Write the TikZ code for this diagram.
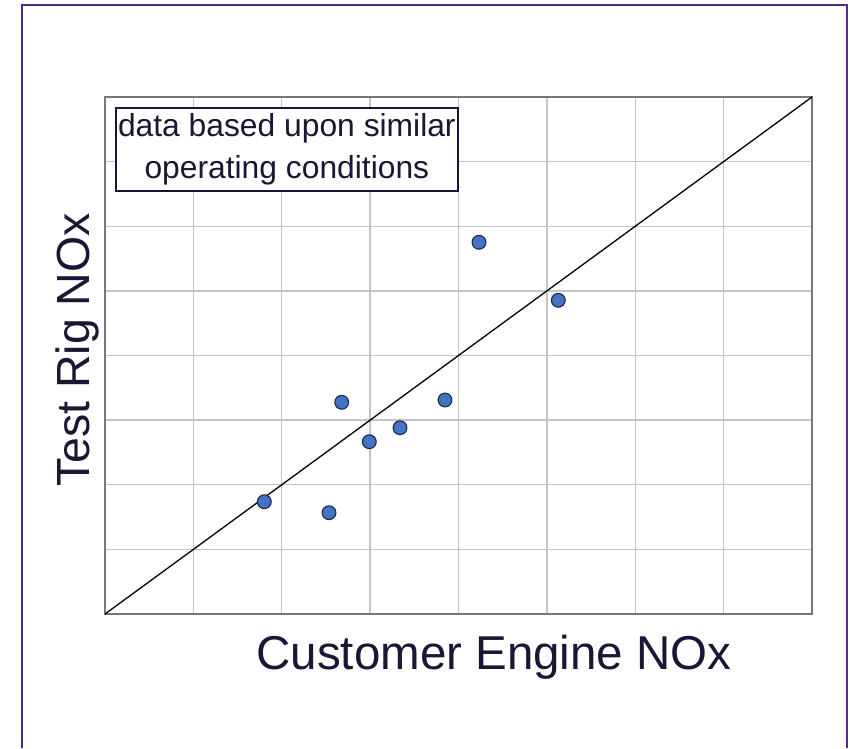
\documentclass[tikz,border=0pt]{standalone}
\usepackage{fontspec}
\setmainfont{Liberation Sans}
\definecolor{framepurple}{RGB}{82,42,140}
\definecolor{inkblue}{RGB}{26,22,52}
\definecolor{gridgray}{RGB}{196,196,196}
\definecolor{boxgray}{RGB}{120,120,120}
\definecolor{dotfill}{RGB}{68,114,196}
\definecolor{dotedge}{RGB}{30,40,70}
\begin{document}
\begin{tikzpicture}[x=1pt,y=-1pt,
  datadot/.style={circle,draw=dotedge,fill=dotfill,line width=1.1pt,minimum size=13.8pt,inner sep=0pt},
  gridline/.style={draw=gridgray,line width=1.3pt},
  axislabel/.style={text=inkblue,inner sep=0pt},
  notebox/.style={draw=inkblue,line width=1.6pt,fill=white,text=inkblue,inner sep=0pt,
    minimum width=342pt,minimum height=83.3pt,align=center,
    font=\fontsize{31.8}{41.7}\selectfont}
]
\useasboundingbox[fill=white] (0,0) rectangle (856,748);
% frame
\draw[framepurple,line width=2.4pt] (22,748) -- (22,5) -- (847,5) -- (847,748);
% grid
\foreach \i in {1,...,7} {
  \draw[gridline] ({105+\i*88.375},97) -- ({105+\i*88.375},614);
  \draw[gridline] (105,{97+\i*64.625}) -- (812,{97+\i*64.625});
}
\draw[boxgray,line width=1.4pt] (105,97) rectangle (812,614);
% diagonal
\coordinate (lo) at (105,614);
\coordinate (hi) at (812,97);
\draw[black,line width=1.3pt] (lo) -- (hi);
% note
\node[notebox] (note) at (286.85,149.35) {data based upon similar\\operating conditions};
% data points
\node[datadot] (p1) at (264.3,501.7) {};
\node[datadot] (p2) at (329,512.7) {};
\node[datadot] (p3) at (341.7,402.3) {};
\node[datadot] (p4) at (369.3,441.7) {};
\node[datadot] (p5) at (400,427.7) {};
\node[datadot] (p6) at (445,400) {};
\node[datadot] (p7) at (479,242.3) {};
\node[datadot] (p8) at (558.3,300.3) {};
% axis labels
\node[axislabel,anchor=base,font=\fontsize{47.5}{56}\selectfont] (xlab) at (494,669) {Customer Engine NOx};
\node[axislabel,rotate=90,anchor=base,font=\fontsize{46.5}{56}\selectfont] (ylab) at (89.5,350) {Test Rig NOx};
\end{tikzpicture}
\end{document}
